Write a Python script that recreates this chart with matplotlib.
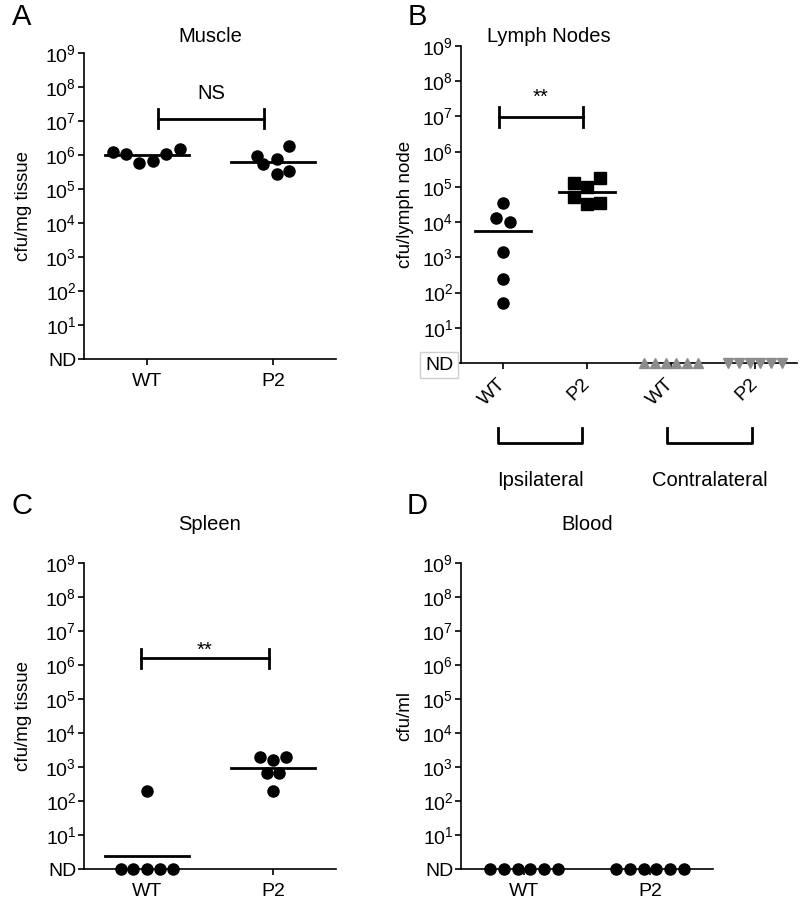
import numpy as np
import matplotlib
matplotlib.use('Agg')
import matplotlib.pyplot as plt
from matplotlib.transforms import blended_transform_factory

plt.rcParams['font.family'] = ['Liberation Sans', 'DejaVu Sans']
plt.rcParams['mathtext.fontset'] = 'custom'
plt.rcParams['mathtext.rm'] = 'Liberation Sans'
plt.rcParams['mathtext.it'] = 'Liberation Sans'

# ---------------- data (cfu; 0 = not detected) ----------------
groups = ['WT', 'P2']
lymph_groups = ['WT', 'P2', 'WT', 'P2']
lymph_sides = ['Ipsilateral', 'Contralateral']

muscle_wt = [1.26e6, 1.05e6, 6.0e5, 6.8e5, 1.05e6, 1.48e6]
muscle_p2 = [9.3e5, 5.5e5, 7.6e5, 1.8e6, 2.8e5, 3.4e5]
muscle_mean = [1.0e6, 6.3e5]

ln_ipsi_wt = [3.5e4, 1.3e4, 9.8e3, 1.4e3, 2.5e2, 50]
ln_ipsi_p2 = [1.26e5, 9.8e4, 1.8e5, 5.1e4, 3.3e4, 3.5e4]
ln_contra_wt = [0, 0, 0, 0, 0, 0]
ln_contra_p2 = [0, 0, 0, 0, 0, 0]
ln_mean = [5.6e3, 7.2e4]

spleen_wt = [0, 0, 200, 0, 0, 0]
spleen_p2 = [2000, 1600, 2000, 650, 650, 195]
spleen_mean = [2.4, 910]

blood_wt = [0, 0, 0, 0, 0, 0]
blood_p2 = [0, 0, 0, 0, 0, 0]

# horizontal scatter offsets (category units)
muscle_wt_dx = [-0.27, -0.17, -0.06, 0.05, 0.15, 0.26]
muscle_p2_dx = [-0.13, -0.08, 0.03, 0.13, 0.03, 0.13]
ln_wt_dx = [0.0, -0.08, 0.08, 0.0, 0.0, 0.0]
ln_p2_dx = [-0.16, 0.0, 0.16, -0.16, 0.0, 0.16]
ln_contra_dx = [-0.32, -0.19, -0.06, 0.06, 0.19, 0.32]
spleen_wt_dx = [-0.21, -0.11, 0.0, 0.0, 0.1, 0.21]
spleen_p2_dx = [-0.1, 0.0, 0.1, -0.05, 0.05, 0.0]
blood_dx = [-0.27, -0.16, -0.05, 0.05, 0.16, 0.27]

ytick_labels = ['ND'] + [r'$\mathregular{10^{%d}}$' % k for k in range(1, 10)]

TICK_FS = 14
TEXT_FS = 14.5


def lg(vals):
    return [np.log10(v) if v > 0 else 0.0 for v in vals]


W, H = 800, 905
fig = plt.figure(figsize=(W / 100, H / 100), dpi=100)


def make_ax(l, t, r, b, ncat):
    ax = fig.add_axes([l / W, 1 - b / H, (r - l) / W, (b - t) / H])
    ax.set_ylim(0, 9)
    ax.set_xlim(-0.5, ncat - 0.5)
    ax.set_yticks(range(10))
    ax.set_yticklabels(ytick_labels, fontsize=TICK_FS)
    ax.set_xticks(range(ncat))
    for s in ['top', 'right']:
        ax.spines[s].set_visible(False)
    for s in ['left', 'bottom']:
        ax.spines[s].set_linewidth(1.2)
    ax.tick_params(axis='both', length=4, width=1.2, labelsize=TICK_FS)
    ax.tick_params(axis='y', pad=1.5)
    ax.tick_params(axis='x', pad=6)
    return ax


def dots(ax, xc, dx, vals, marker='o', color='black', ms=8):
    xs = [xc + d for d in dx]
    ax.plot(xs, lg(vals), linestyle='none', marker=marker, color=color,
            markersize=ms, clip_on=False, zorder=5)


def mean_line(ax, xc, m, hw=0.33):
    y = np.log10(m)
    ax.plot([xc - hw, xc + hw], [y, y], color='black', lw=2, zorder=4)


def bracket(ax, x1, x2, y, label, ty, dy=0.28):
    ax.plot([x1, x2], [y, y], color='black', lw=2, clip_on=False)
    ax.plot([x1, x1], [y - dy, y + dy], color='black', lw=2, clip_on=False)
    ax.plot([x2, x2], [y - dy, y + dy], color='black', lw=2, clip_on=False)
    ax.text((x1 + x2) / 2, ty, label, ha='center', va='center', fontsize=TEXT_FS)


# ---------------- A: Muscle ----------------
axA = make_ax(84, 53, 336, 359, 2)
axA.set_xticklabels(groups)
dots(axA, 0, muscle_wt_dx, muscle_wt)
dots(axA, 1, muscle_p2_dx, muscle_p2)
mean_line(axA, 0, muscle_mean[0])
mean_line(axA, 1, muscle_mean[1])
bracket(axA, 0.09, 0.93, 7.06, 'NS', 7.82)
axA.set_ylabel('cfu/mg tissue', fontsize=13.5)
axA.yaxis.set_label_coords(-0.205, 0.5)
axA.text(0.5, 1.055, 'Muscle', transform=axA.transAxes, ha='center', va='center', fontsize=TEXT_FS)
fig.text(22 / W, 1 - 17 / H, 'A', fontsize=21, ha='center', va='center')

# ---------------- B: Lymph nodes ----------------
axB = make_ax(461, 46, 797, 363, 4)
axB.set_xticklabels(lymph_groups, rotation=45, ha='right', va='center',
                    rotation_mode='anchor')
axB.tick_params(axis='x', pad=9)
dots(axB, 0, ln_wt_dx, ln_ipsi_wt)
dots(axB, 1, ln_p2_dx, ln_ipsi_p2, marker='s', ms=8)
dots(axB, 2, ln_contra_dx, ln_contra_wt, marker='^', color='#8c8c8c', ms=6.5)
dots(axB, 3, ln_contra_dx, ln_contra_p2, marker='v', color='#8c8c8c', ms=6.5)
mean_line(axB, 0, ln_mean[0])
mean_line(axB, 1, ln_mean[1])
bracket(axB, -0.05, 0.95, 6.98, '**', 7.53)
axB.set_ylabel('cfu/lymph node', fontsize=13.5)
axB.yaxis.set_label_coords(-0.14, 0.5)
nd_label = axB.get_yticklabels()[0]
nd_label.set_bbox(dict(facecolor='white', edgecolor='#cfcfcf', boxstyle='square,pad=0.25', lw=1))
axB.text(0.26, 1.03, 'Lymph Nodes', transform=axB.transAxes, ha='center', va='center', fontsize=TEXT_FS)
fig.text(417 / W, 1 - 17 / H, 'B', fontsize=21, ha='center', va='center')

tB = blended_transform_factory(axB.transData, axB.transAxes)
for (x1, x2), lab in zip([(-0.06, 0.94), (1.95, 2.97)], lymph_sides):
    axB.plot([x1, x1, x2, x2], [-0.205, -0.252, -0.252, -0.205], color='black', lw=2,
             transform=tB, clip_on=False)
    axB.text((x1 + x2) / 2, -0.372, lab, transform=tB, ha='center', va='center', fontsize=TEXT_FS)

# ---------------- C: Spleen ----------------
axC = make_ax(84, 563, 336, 869, 2)
axC.set_xticklabels(groups)
dots(axC, 0, spleen_wt_dx, spleen_wt)
dots(axC, 1, spleen_p2_dx, spleen_p2)
mean_line(axC, 0, spleen_mean[0])
mean_line(axC, 1, spleen_mean[1])
bracket(axC, -0.05, 0.97, 6.2, '**', 6.44)
axC.set_ylabel('cfu/mg tissue', fontsize=13.5)
axC.yaxis.set_label_coords(-0.205, 0.5)
axC.text(0.5, 1.125, 'Spleen', transform=axC.transAxes, ha='center', va='center', fontsize=TEXT_FS)
fig.text(22 / W, 1 - 506 / H, 'C', fontsize=21, ha='center', va='center')

# ---------------- D: Blood ----------------
axD = make_ax(461, 563, 713, 869, 2)
axD.set_xticklabels(groups)
dots(axD, 0, blood_dx, blood_wt)
dots(axD, 1, blood_dx, blood_p2)
axD.set_ylabel('cfu/ml', fontsize=13.5)
axD.yaxis.set_label_coords(-0.19, 0.5)
axD.text(0.5, 1.125, 'Blood', transform=axD.transAxes, ha='center', va='center', fontsize=TEXT_FS)
fig.text(417 / W, 1 - 506 / H, 'D', fontsize=21, ha='center', va='center')

fig.savefig('out.png', dpi=100)
